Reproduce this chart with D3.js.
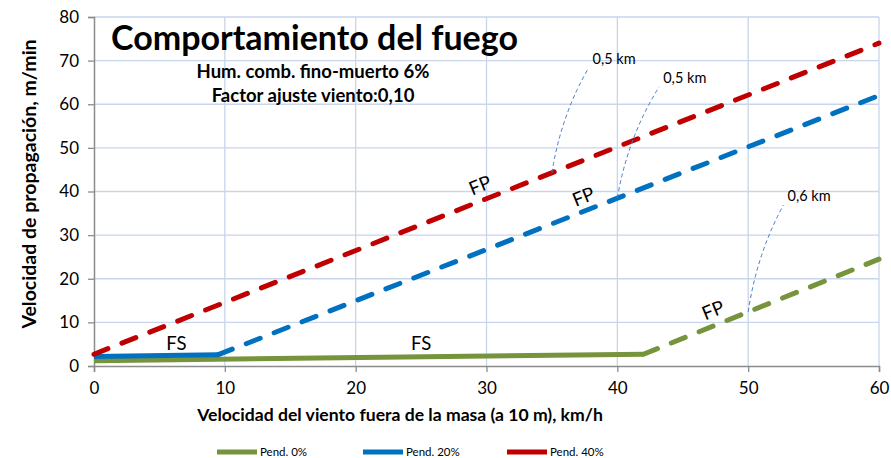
<!DOCTYPE html>
<html><head><meta charset="utf-8">
<script src="https://cdn.jsdelivr.net/npm/d3@7"></script>
<style>body{margin:0;background:#fff}svg{display:block}text{font-family:Lato,"Open Sans",sans-serif}</style>
</head><body><svg id="c" width="891" height="458"></svg>
<script>
const xTicks = [0,10,20,30,40,50,60];
const yTicks = [0,10,20,30,40,50,60,70,80];
const seriesNames = ["Pend. 0%","Pend. 20%","Pend. 40%"];
const seriesColors = ["#77933c","#0070c0","#c00000"];
// FS (solid) segments and FP (dashed) segments per series
const greenFS = [[0,1.2],[42,2.7]];
const greenFP = [[42,2.7],[60,24.5]];
const blueFS  = [[0,2.2],[9.5,2.6]];
const blueFP  = [[9.5,2.6],[60,62]];
const redFP   = [[0,2.7],[60,74]];
// distance annotations: anchor point on line and label end point (data units)
const annotations = [
  {text:"0,5 km", from:[35,44.3], to:[37.8,68.3]},
  {text:"0,5 km", from:[40,38.5], to:[43.2,64]},
  {text:"0,6 km", from:[50,12.4], to:[52.7,36.9]}
];
const fsLabels = [[6.3,2.6],[25,2.6]];
const fpLabels = [[29.7,40],[37.6,37.4],[47.5,11.4]];

const svg = d3.select("#c");
const x = d3.scaleLinear().domain([0,60]).range([94,879]);
const y = d3.scaleLinear().domain([0,80]).range([366,17]);

// gridlines
svg.append("g").selectAll("line").data(yTicks.slice(1)).join("line")
  .attr("x1",x(0)).attr("x2",x(60)).attr("y1",d=>y(d)).attr("y2",d=>y(d))
  .attr("stroke","#c9d5ec").attr("stroke-width",1.3);
svg.append("g").selectAll("line").data(xTicks.slice(1)).join("line")
  .attr("y1",y(0)).attr("y2",y(80)).attr("x1",d=>x(d)).attr("x2",d=>x(d))
  .attr("stroke","#c9d5ec").attr("stroke-width",1.3);

// axes
const ax = svg.append("g").attr("transform",`translate(0,${y(0)})`)
  .call(d3.axisBottom(x).tickValues(xTicks).tickSize(6).tickPadding(10));
const ay = svg.append("g").attr("transform",`translate(${x(0)},0)`)
  .call(d3.axisLeft(y).tickValues(yTicks).tickSize(6).tickPadding(9));
[ax,ay].forEach(g=>{
  g.selectAll("path").attr("stroke","#8c8c8c").attr("stroke-width",1.5);
  g.selectAll("line").attr("stroke","#8c8c8c").attr("stroke-width",1.3);
  g.selectAll("text").attr("font-size",17).attr("fill","#000").attr("font-family","Lato,sans-serif");
});

const line = d3.line().x(d=>x(d[0])).y(d=>y(d[1]));
function solid(data,color){
  svg.append("path").attr("d",line(data)).attr("fill","none").attr("stroke",color)
    .attr("stroke-width",5).attr("stroke-linejoin","round");
}
function dashed(data,color){
  svg.append("path").attr("d",line(data)).attr("fill","none").attr("stroke",color)
    .attr("stroke-width",5).attr("stroke-linecap","round").attr("stroke-dasharray","15,15");
}
solid(greenFS,seriesColors[0]);
dashed(greenFP,seriesColors[0]);
solid(blueFS,seriesColors[1]);
dashed(blueFP,seriesColors[1]);
dashed(redFP,seriesColors[2]);

// annotations
annotations.forEach(a=>{
  const x0=x(a.from[0]), y0=y(a.from[1]), x1=x(a.to[0]), y1=y(a.to[1]);
  const cx = x0 + (x1-x0)*0.25, cy = y0 + (y1-y0)*0.55;
  svg.append("path").attr("d",`M${x0},${y0}Q${cx},${cy} ${x1},${y1}`)
    .attr("fill","none").attr("stroke","#4a7cc4").attr("stroke-width",1).attr("stroke-dasharray","4,3");
  svg.append("text").attr("x",x1+4).attr("y",y1-4).attr("font-size",14.5).text(a.text);
});

// FS/FP labels
fsLabels.forEach(p=>{
  svg.append("text").attr("x",x(p[0])).attr("y",y(p[1])-5).attr("text-anchor","middle")
    .attr("font-size",18.5).text("FS");
});
fpLabels.forEach(p=>{
  svg.append("text").attr("transform",`translate(${x(p[0])},${y(p[1])}) rotate(-22)`)
    .attr("text-anchor","middle").attr("font-size",19).text("FP");
});

// titles
svg.append("text").attr("x",111).attr("y",50).attr("font-size",34).attr("font-weight","bold").text("Comportamiento del fuego");
svg.append("text").attr("x",313).attr("y",78).attr("text-anchor","middle").attr("font-size",18.5).attr("font-weight","bold").text("Hum. comb. fino-muerto 6%");
svg.append("text").attr("x",313).attr("y",102).attr("text-anchor","middle").attr("font-size",18.5).attr("font-weight","bold").text("Factor ajuste viento:0,10");

// axis titles
svg.append("text").attr("x",400).attr("y",421).attr("text-anchor","middle").attr("font-size",17.6).attr("font-weight","bold")
  .text("Velocidad del viento fuera de la masa (a 10 m), km/h");
svg.append("text").attr("transform","translate(36,184) rotate(-90)").attr("text-anchor","middle").attr("font-size",19.5).attr("font-weight","bold")
  .text("Velocidad de propagación, m/min");

// legend
const legX = [217,363,507];
seriesNames.forEach((n,i)=>{
  svg.append("line").attr("x1",legX[i]).attr("x2",legX[i]+40).attr("y1",452).attr("y2",452)
    .attr("stroke",seriesColors[i]).attr("stroke-width",5);
  svg.append("text").attr("x",legX[i]+43).attr("y",456).attr("font-size",11.5).text(n);
});
</script></body></html>
